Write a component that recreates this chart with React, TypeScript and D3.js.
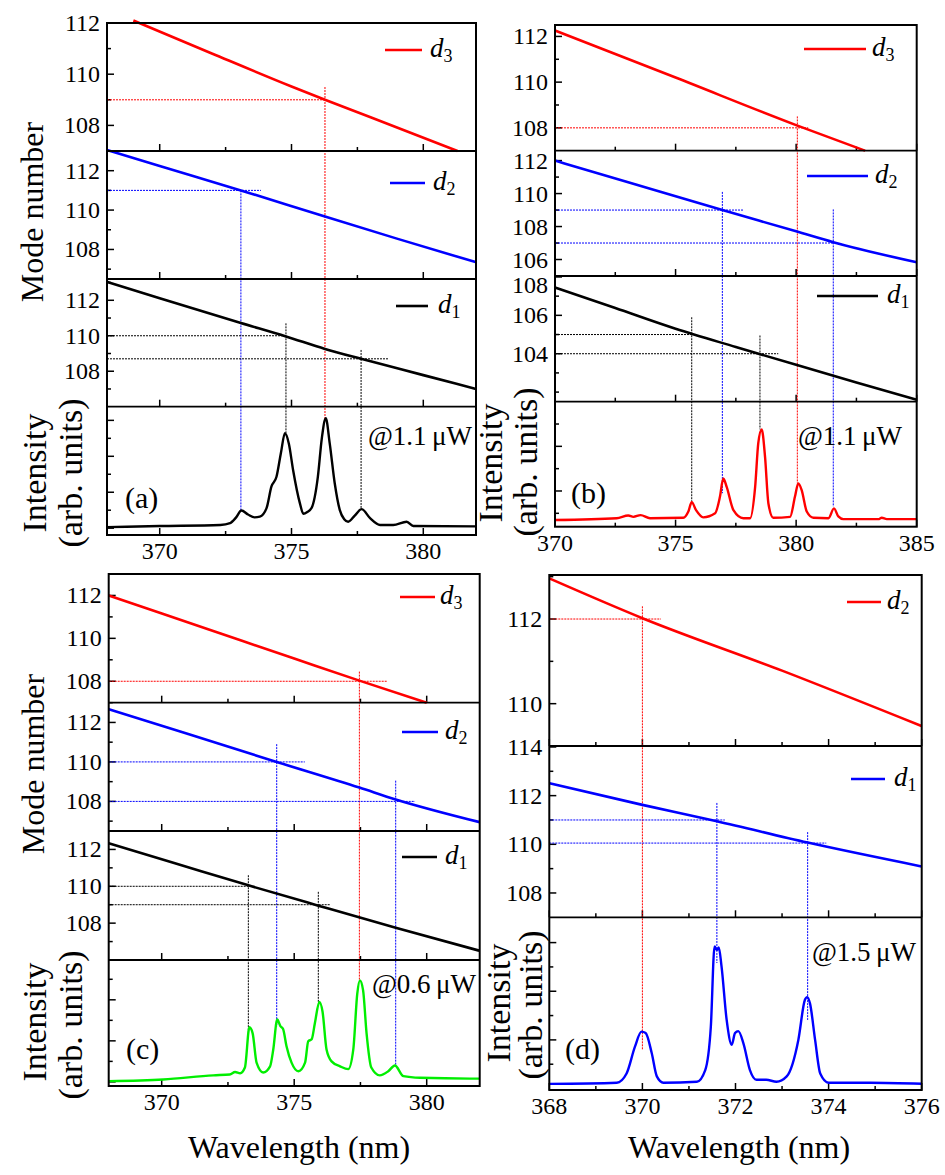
import React from 'react';
import * as d3 from 'd3';

type Pt = [number, number];

// ---------- panel (a) ----------
const aD3: Pt[] = [[369, 112.1], [372, 110.8], [375, 109.52], [376.27, 109], [378, 108.32], [381.3, 107]];
const aD2: Pt[] = [[368, 113.05], [370, 112.24], [373.08, 111], [376.27, 109.67], [379, 108.55], [382, 107.35]];
const aD1: Pt[] = [[368, 113.04], [370, 112.12], [373.08, 110.72], [374.79, 109.96], [376.27, 109.26], [377.64, 108.7], [380, 107.78], [382, 107.0]];
const aSpec: Pt[] = [
  [368, 0.03], [370, 0.06], [372.3, 0.09], [372.67, 0.14], [372.9, 0.3], [373.1, 0.49], [373.35, 0.38], [373.6, 0.3],
  [373.8, 0.32], [374.05, 0.55], [374.24, 1.16], [374.43, 1.43], [374.6, 2.1], [374.75, 2.64], [374.9, 2.35],
  [375.06, 1.62], [375.32, 0.69], [375.45, 0.4], [375.6, 0.45], [375.76, 0.56], [376.0, 1.43], [376.15, 2.5],
  [376.3, 3.06], [376.45, 2.36], [376.64, 1.25], [376.83, 0.51], [377.0, 0.25], [377.15, 0.18], [377.4, 0.35],
  [377.66, 0.53], [377.98, 0.28], [378.36, 0.09], [378.86, 0.09], [379.37, 0.18], [379.62, 0.06], [382, 0.05],
];
const aGuides = [
  { row: 0, wl: 376.27, mode: 109, top: 109.5, hEnd: 376.27, peak: 3.0 },
  { row: 1, wl: 373.08, mode: 111, top: 111, hEnd: 373.84, peak: 0.49 },
  { row: 2, wl: 374.79, mode: 110, top: 110.7, hEnd: 374.79, peak: 2.65 },
  { row: 2, wl: 377.64, mode: 108.7, top: 109.2, hEnd: 378.67, peak: 0.56 },
];

// ---------- panel (b) ----------
const bD3: Pt[] = [[370, 112.26], [375, 110.2], [380, 108.12], [382.86, 107]];
const bD2: Pt[] = [[370, 112.0], [373, 110.7], [376.94, 109.0], [380, 107.71], [381.54, 107.05], [385, 105.83]];
const bD1: Pt[] = [[370, 107.45], [372.5, 106.38], [375, 105.3], [377.5, 104.35], [380, 103.42], [382.5, 102.5], [385, 101.6]];
const bSpec: Pt[] = [
  [370, 0.35], [372.56, 0.39], [373.04, 0.45], [373.25, 0.42], [373.55, 0.46], [373.94, 0.39], [375.32, 0.4],
  [375.53, 0.54], [375.67, 0.75], [375.85, 0.57], [376.15, 0.41], [376.64, 0.5], [376.84, 0.87], [376.98, 1.28],
  [377.12, 1.09], [377.4, 0.57], [377.81, 0.39], [378.09, 0.39], [378.3, 1.09], [378.43, 2.07], [378.57, 2.38],
  [378.71, 1.77], [378.85, 0.72], [379.05, 0.4], [379.75, 0.42], [379.95, 0.87], [380.09, 1.17], [380.23, 1.02],
  [380.44, 0.54], [380.72, 0.4], [381.34, 0.39], [381.57, 0.61], [381.75, 0.43], [381.96, 0.37], [383.41, 0.37],
  [383.55, 0.4], [383.76, 0.37], [385, 0.37],
];
const bGuides = [
  { row: 0, wl: 380.05, mode: 108, top: 108.5, hEnd: 380.5, peak: 1.17 },
  { row: 1, wl: 376.94, mode: 109, top: 110.1, hEnd: 377.8, peak: 0.95 },
  { row: 1, wl: 381.54, mode: 107, top: 109.04, hEnd: 381.54, peak: 0.65 },
  { row: 2, wl: 375.67, mode: 105, top: 105.9, hEnd: 375.67, peak: 0.76 },
  { row: 2, wl: 378.5, mode: 104, top: 104.95, hEnd: 379.26, peak: 2.38 },
];

// ---------- panel (c) ----------
const cD3: Pt[] = [[368, 112], [372, 110.32], [375, 109.06], [377.46, 108.03], [380, 107]];
const cD2: Pt[] = [[368, 112.67], [371, 111.41], [374.34, 110], [377.46, 108.7], [378.83, 108.1], [382, 106.95]];
const cD1: Pt[] = [[368, 112.33], [370.5, 111.25], [373.27, 110.05], [375.91, 108.95], [378.83, 107.75], [382, 106.5]];
const cSpec: Pt[] = [
  [368, 0.02], [370.06, 0.06], [371.95, 0.16], [372.57, 0.18], [372.77, 0.24], [372.96, 0.21], [373.14, 0.35],
  [373.31, 1.33], [373.43, 1.19], [373.58, 0.47], [373.83, 0.23], [374.09, 0.38], [374.21, 0.79], [374.36, 1.52],
  [374.48, 1.36], [374.58, 1.29], [374.71, 0.87], [374.9, 0.47], [375.16, 0.26], [375.41, 0.47], [375.53, 0.99],
  [375.66, 1.04], [375.78, 1.43], [375.95, 1.95], [376.07, 1.71], [376.22, 0.79], [376.41, 0.5], [376.73, 0.38],
  [377.04, 0.31], [377.23, 0.79], [377.38, 2.15], [377.48, 2.47], [377.6, 2.23], [377.73, 1.19], [377.91, 0.35],
  [378.23, 0.16], [378.55, 0.26], [378.8, 0.4], [379.12, 0.14], [379.75, 0.1], [381.63, 0.08], [382, 0.08],
];
const cGuides = [
  { row: 0, wl: 377.46, mode: 108, top: 108.45, hEnd: 378.5, peak: 2.47 },
  { row: 1, wl: 374.34, mode: 110, top: 110.9, hEnd: 375.4, peak: 1.35 },
  { row: 1, wl: 378.83, mode: 108, top: 109.05, hEnd: 379.56, peak: 0.4 },
  { row: 2, wl: 373.27, mode: 110, top: 110.6, hEnd: 373.52, peak: 1.1 },
  { row: 2, wl: 375.91, mode: 109, top: 109.7, hEnd: 376.35, peak: 1.95 },
];

// ---------- panel (d) ----------
const dD2: Pt[] = [[368, 112.96], [370, 112.02], [373, 110.78], [376, 109.47]];
const dD1: Pt[] = [[368, 112.51], [370, 111.62], [371.6, 110.95], [373.55, 110.07], [376, 109.09]];
const dSpec: Pt[] = [
  [368, 0.095], [369.45, 0.12], [369.66, 0.31], [369.84, 0.86], [369.98, 1.17], [370.07, 1.14], [370.2, 0.73],
  [370.31, 0.25], [370.45, 0.12], [371.17, 0.14], [371.35, 0.38], [371.47, 1.27], [371.55, 2.92], [371.6, 2.85],
  [371.64, 2.9], [371.7, 2.51], [371.81, 1.41], [371.92, 0.9], [371.99, 1.14], [372.06, 1.18], [372.17, 0.93],
  [372.31, 0.38], [372.45, 0.18], [372.66, 0.18], [372.88, 0.14], [373.1, 0.25], [373.35, 1.0], [373.49, 1.82],
  [373.54, 1.88], [373.6, 1.75], [373.71, 1.0], [373.82, 0.31], [374.0, 0.12], [374.9, 0.12], [376, 0.1],
];
const dGuides = [
  { row: 0, wl: 370.0, mode: 112, top: 112.3, hEnd: 370.4, peak: 0.79 },
  { row: 1, wl: 371.6, mode: 111, top: 111.7, hEnd: 371.77, peak: 2.58 },
  { row: 1, wl: 373.55, mode: 110.05, top: 110.5, hEnd: 373.95, peak: 1.41 },
];

const FONT_CSS = '"Liberation Serif", serif';
const RED = '#ff0000';
const BLUE = '#0000ff';
const BLACK = '#000000';
const GREEN = '#00ee00';

interface RowCfg {
  sub: string;
  color: string;
  data: Pt[];
  domain: [number, number];
  major: number[];
  minor: number[];
  leg: [number, number, number, number]; // line x1, x2, y, text x
  topPad?: number; // keep a label at the row top from touching the row above
}

interface PanelCfg {
  x0: number;
  x1: number;
  xDomain: [number, number];
  xMajor: number[];
  xMinor: number[];
  ys: number[]; // row boundaries, top to bottom
  rows: RowCfg[];
  spec: Pt[];
  specColor: string;
  iDomain: [number, number];
  iMajor: number[];
  iMinor: number[];
  guides: { row: number; wl: number; mode: number; top: number; hEnd: number; peak: number }[];
  note: string;
  notePos: [number, number];
  tag: string;
  tagPos: [number, number];
}

const T = (props: React.SVGProps<SVGTextElement>) => (
  <text {...props} style={{ fontFamily: FONT_CSS }} />
);

function Panel({ cfg }: { cfg: PanelCfg }) {
  const x = d3.scaleLinear().domain(cfg.xDomain).range([cfg.x0, cfg.x1]);
  const nRows = cfg.rows.length;
  const yRows = cfg.rows.map((r, i) =>
    d3.scaleLinear().domain(r.domain).range([cfg.ys[i + 1], cfg.ys[i]])
  );
  const yI = d3.scaleLinear().domain(cfg.iDomain).range([cfg.ys[nRows + 1], cfg.ys[nRows]]);
  const bottom = cfg.ys[cfg.ys.length - 1];

  const lineGen = (ys: d3.ScaleLinear<number, number>) =>
    d3.line<Pt>().x(d => x(d[0])).y(d => ys(d[1])).curve(d3.curveMonotoneX);

  const elems: React.ReactNode[] = [];

  // x ticks on the bottom edge of every row (pointing inward)
  for (let i = 1; i < cfg.ys.length; i++) {
    const yb = cfg.ys[i];
    cfg.xMajor.forEach(t =>
      elems.push(<line key={`xM${i}-${t}`} x1={x(t)} x2={x(t)} y1={yb} y2={yb - 7} stroke="#000" strokeWidth={1.5} />)
    );
    cfg.xMinor.forEach(t =>
      elems.push(<line key={`xm${i}-${t}`} x1={x(t)} x2={x(t)} y1={yb} y2={yb - 4} stroke="#000" strokeWidth={1.5} />)
    );
  }

  // y ticks of mode rows
  cfg.rows.forEach((r, i) => {
    const ys = yRows[i];
    const rowTop = cfg.ys[i];
    r.major.forEach(t => {
      elems.push(<line key={`yM${i}-${t}`} x1={cfg.x0} x2={cfg.x0 + 7} y1={ys(t)} y2={ys(t)} stroke="#000" strokeWidth={1.5} />);
      const ly = r.topPad ? Math.max(ys(t), rowTop + r.topPad) : ys(t);
      elems.push(
        <T key={`yl${i}-${t}`} x={cfg.x0 - 7} y={ly} textAnchor="end" dominantBaseline="central" fontSize={24}>{t}</T>
      );
    });
    r.minor.forEach(t =>
      elems.push(<line key={`ym${i}-${t}`} x1={cfg.x0} x2={cfg.x0 + 4} y1={ys(t)} y2={ys(t)} stroke="#000" strokeWidth={1.5} />)
    );
  });
  // intensity ticks
  cfg.iMajor.forEach(t =>
    elems.push(<line key={`iM${t}`} x1={cfg.x0} x2={cfg.x0 + 7} y1={yI(t)} y2={yI(t)} stroke="#000" strokeWidth={1.5} />)
  );
  cfg.iMinor.forEach(t =>
    elems.push(<line key={`im${t}`} x1={cfg.x0} x2={cfg.x0 + 4} y1={yI(t)} y2={yI(t)} stroke="#000" strokeWidth={1.5} />)
  );

  // x tick labels
  cfg.xMajor.forEach(t =>
    elems.push(
      <T key={`xl${t}`} x={x(t)} y={bottom + 16} textAnchor="middle" dominantBaseline="central" fontSize={24}>{t}</T>
    )
  );

  // guides
  cfg.guides.forEach((g, k) => {
    const col = cfg.rows[g.row].color;
    const ys = yRows[g.row];
    elems.push(
      <line key={`gh${k}`} x1={cfg.x0} x2={x(g.hEnd)} y1={ys(g.mode)} y2={ys(g.mode)}
        stroke={col} strokeWidth={1} strokeDasharray="2,1" />
    );
    elems.push(
      <line key={`gv${k}`} x1={x(g.wl)} x2={x(g.wl)} y1={ys(g.top)} y2={yI(g.peak)}
        stroke={col} strokeWidth={1} strokeDasharray="2,1" />
    );
  });

  // mode lines + legends
  cfg.rows.forEach((r, i) => {
    elems.push(<path key={`ml${i}`} d={lineGen(yRows[i])(r.data) || ''} fill="none" stroke={r.color} strokeWidth={2.6} />);
    const [lx1, lx2, ly, tx] = r.leg;
    elems.push(<line key={`lg${i}`} x1={lx1} x2={lx2} y1={ly} y2={ly} stroke={r.color} strokeWidth={2.6} />);
    elems.push(
      <T key={`lt${i}`} x={tx} y={ly + 7} fontSize={27} fontStyle="italic">
        d<tspan fontSize={18} dy={5} fontStyle="normal">{r.sub}</tspan>
      </T>
    );
  });

  // spectrum
  elems.push(<path key="spec" d={lineGen(yI)(cfg.spec) || ''} fill="none" stroke={cfg.specColor} strokeWidth={2.4} />);

  // frame
  elems.push(
    <rect key="frame" x={cfg.x0} y={cfg.ys[0]} width={cfg.x1 - cfg.x0} height={bottom - cfg.ys[0]}
      fill="none" stroke="#000" strokeWidth={2} />
  );
  for (let i = 1; i < cfg.ys.length - 1; i++) {
    elems.push(<line key={`div${i}`} x1={cfg.x0} x2={cfg.x1} y1={cfg.ys[i]} y2={cfg.ys[i]} stroke="#000" strokeWidth={1.8} />);
  }

  elems.push(
    <T key="note" x={cfg.notePos[0]} y={cfg.notePos[1]} dominantBaseline="central" fontSize={27}>{cfg.note}</T>
  );
  elems.push(
    <T key="tag" x={cfg.tagPos[0]} y={cfg.tagPos[1]} dominantBaseline="central" fontSize={30}>{cfg.tag}</T>
  );

  return <g>{elems}</g>;
}

const panelA: PanelCfg = {
  x0: 107, x1: 476, xDomain: [368, 382], xMajor: [370, 375, 380], xMinor: [372.5, 377.5],
  ys: [23, 151, 279, 406.7, 535],
  rows: [
    { sub: '3', color: RED, data: aD3, domain: [107, 112], major: [108, 110, 112], minor: [109, 111], leg: [385, 422, 50, 430] },
    { sub: '2', color: BLUE, data: aD2, domain: [106.5, 113], major: [108, 110, 112], minor: [107, 109, 111, 113], leg: [390, 425, 183, 433] },
    { sub: '1', color: BLACK, data: aD1, domain: [106, 113.2], major: [108, 110, 112], minor: [107, 109, 111, 113], leg: [396, 428, 306, 438] },
  ],
  spec: aSpec, specColor: BLACK, iDomain: [-0.19, 3.38], iMajor: [0, 1, 2, 3], iMinor: [0.5, 1.5, 2.5],
  guides: aGuides, note: '@1.1\u2009\u03bcW', notePos: [368, 436], tag: '(a)', tagPos: [125, 497],
};

const panelB: PanelCfg = {
  x0: 555, x1: 916.7, xDomain: [370, 385], xMajor: [370, 375, 380, 385], xMinor: [372.5, 377.5, 382.5],
  ys: [25, 150.7, 276, 401.7, 526.7],
  rows: [
    { sub: '3', color: RED, data: bD3, domain: [107, 112.5], major: [108, 110, 112], minor: [109, 111], leg: [804, 866, 49, 872] },
    { sub: '2', color: BLUE, data: bD2, domain: [105, 112.6], major: [106, 108, 110, 112], minor: [107, 109, 111], leg: [807, 868, 176, 875] },
    { sub: '1', color: BLACK, data: bD1, domain: [101.5, 108.05], major: [104, 106, 108], minor: [102, 103, 105, 107], leg: [817, 878, 296, 887], topPad: 9 },
  ],
  spec: bSpec, specColor: RED, iDomain: [0.2, 3.0], iMajor: [1, 2], iMinor: [0.5, 1.5, 2.5],
  guides: bGuides, note: '@1.1\u2009\u03bcW', notePos: [798, 436], tag: '(b)', tagPos: [571, 492],
};

const panelC: PanelCfg = {
  x0: 108.7, x1: 479.7, xDomain: [368, 382], xMajor: [370, 375, 380], xMinor: [372.5, 377.5],
  ys: [574, 702.7, 831, 960, 1086],
  rows: [
    { sub: '3', color: RED, data: cD3, domain: [107, 113], major: [108, 110, 112], minor: [109, 111], leg: [400, 435, 597, 440] },
    { sub: '2', color: BLUE, data: cD2, domain: [106.5, 113], major: [108, 110, 112], minor: [107, 109, 111, 113], leg: [402, 438, 732, 445] },
    { sub: '1', color: BLACK, data: cD1, domain: [106, 113], major: [108, 110, 112], minor: [107, 109, 111], leg: [402, 437, 857, 445] },
  ],
  spec: cSpec, specColor: GREEN, iDomain: [-0.1, 2.97], iMajor: [0, 1, 2], iMinor: [0.5, 1.5, 2.5],
  guides: cGuides, note: '@0.6\u2009\u03bcW', notePos: [372, 984], tag: '(c)', tagPos: [126, 1048],
};

const panelD: PanelCfg = {
  x0: 549.3, x1: 921.7, xDomain: [368, 376], xMajor: [368, 370, 372, 374, 376], xMinor: [369, 371, 373, 375],
  ys: [575, 746, 917.3, 1090],
  rows: [
    { sub: '2', color: RED, data: dD2, domain: [109, 113.04], major: [110, 112], minor: [111, 113], leg: [847, 881, 602, 887] },
    { sub: '1', color: BLUE, data: dD1, domain: [107, 114.04], major: [108, 110, 112, 114], minor: [109, 111, 113], leg: [851, 885, 779, 894] },
  ],
  spec: dSpec, specColor: BLUE, iDomain: [-0.03, 3.52], iMajor: [1, 2, 3], iMinor: [0.5, 1.5, 2.5],
  guides: dGuides, note: '@1.5\u2009\u03bcW', notePos: [812, 952], tag: '(d)', tagPos: [565, 1048],
};

function VText({ x, y, children, size = 32 }: { x: number; y: number; children: React.ReactNode; size?: number }) {
  return (
    <T x={x} y={y} transform={`rotate(-90 ${x} ${y})`} textAnchor="middle" dominantBaseline="central" fontSize={size}>
      {children}
    </T>
  );
}

export default function App() {
  return (
    <svg width={945} height={1175} style={{ position: 'absolute', left: 0, top: 0, background: '#fff', fontFamily: FONT_CSS }}>
      <rect x={0} y={0} width={945} height={1175} fill="#fff" />
      <Panel cfg={panelA} />
      <Panel cfg={panelB} />
      <Panel cfg={panelC} />
      <Panel cfg={panelD} />

      <VText x={32} y={212}>Mode number</VText>
      <VText x={34} y={473} size={34}>Intensity</VText>
      <VText x={70} y={473} size={34}>(arb. units)</VText>

      <VText x={490} y={463} size={34}>Intensity</VText>
      <VText x={525} y={462} size={34}>(arb. units)</VText>

      <VText x={33} y={764}>Mode number</VText>
      <VText x={34} y={1022} size={34}>Intensity</VText>
      <VText x={70} y={1025} size={34}>(arb. units)</VText>

      <VText x={498} y={1003} size={34}>Intensity</VText>
      <VText x={530} y={1005} size={34}>(arb. units)</VText>

      <T x={299} y={1147} textAnchor="middle" dominantBaseline="central" fontSize={32}>Wavelength (nm)</T>
      <T x={739} y={1147} textAnchor="middle" dominantBaseline="central" fontSize={32}>Wavelength (nm)</T>
    </svg>
  );
}
